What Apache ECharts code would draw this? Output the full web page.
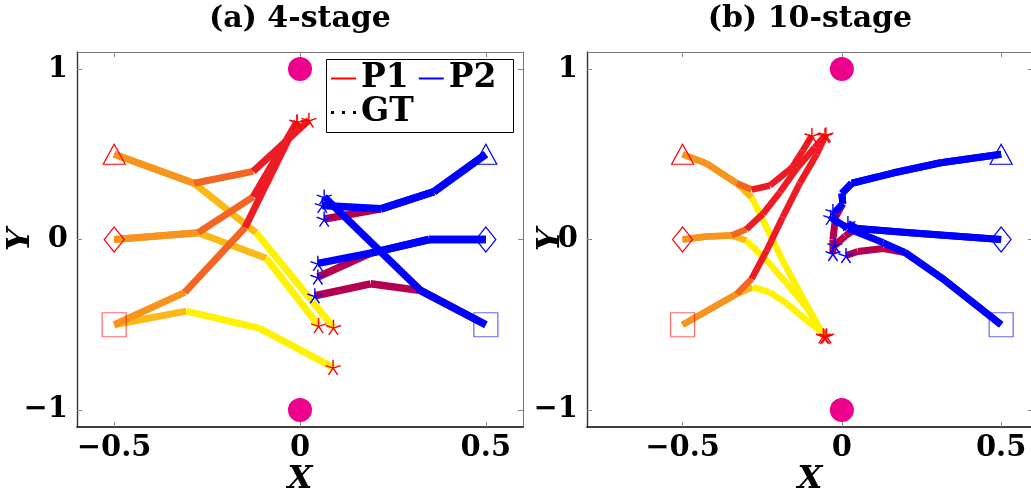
<!DOCTYPE html>
<html><head><meta charset="utf-8">
<script src="https://cdn.jsdelivr.net/npm/echarts@6/dist/echarts.min.js"></script>
<style>html,body{margin:0;padding:0;background:#fff}#c{width:1031px;height:497px}</style>
</head><body><div id="c"></div>
<script>
// ---------------- data ----------------
const panelTitles = ['(a) 4-stage', '(b) 10-stage'];
const xTicks = [-0.5, 0, 0.5];
const yTicks = [-1, 0, 1];
const xRangeA = [-0.6, 0.6];
const xRangeB = [-0.8, 0.6];
const yRange = [-1.1, 1.1];
const obstacles = [[0, 1], [0, -1]];
const startTri = { P1: [-0.5, 0.5], P2: [0.5, 0.5] };
const startDia = { P1: [-0.5, 0], P2: [0.5, 0] };
const startSq  = { P1: [-0.5, -0.5], P2: [0.5, -0.5] };
const legendNames = ['P1', 'P2', 'GT'];

// each point: [x, y, w]; w = colour weight of the segment ending at that point
// P1: 0 = red ... 1 = yellow ; P2: 0 = blue ... 1 = crimson
// panel (a) 4-stage
const a_P1_tri_up = [[-0.5,0.5,0.5],[-0.285,0.33,0.5],[-0.126,0.40,0.25],[0.024,0.70,0]];
const a_P1_tri_dn = [[-0.5,0.5,0.5],[-0.285,0.33,0.5],[-0.118,0.04,0.75],[0.09,-0.515,1]];
const a_P1_dia_up = [[-0.5,0,0.5],[-0.274,0.04,0.5],[-0.126,0.25,0.25],[-0.008,0.69,0]];
const a_P1_dia_dn = [[-0.5,0,0.5],[-0.274,0.04,0.5],[-0.091,-0.11,0.75],[0.05,-0.505,1]];
const a_P1_sq_up  = [[-0.5,-0.5,0.5],[-0.31,-0.31,0.5],[-0.148,0.07,0.25],[-0.008,0.69,0]];
const a_P1_sq_dn  = [[-0.5,-0.5,0.75],[-0.306,-0.42,0.75],[-0.11,-0.52,1],[0.089,-0.75,1]];
const a_P2_tri_main = [[0.5,0.5,0],[0.36,0.28,0],[0.218,0.18,0],[0.06,0.20,0]];
const a_P2_tri_alt  = [[0.5,0.5,0],[0.36,0.28,0],[0.218,0.18,0],[0.065,0.12,1]];
const a_P2_dia_main = [[0.5,0,0],[0.347,0.0,0],[0.19,-0.08,0],[0.048,-0.14,0]];
const a_P2_dia_alt  = [[0.5,0,0],[0.347,0.0,0],[0.19,-0.08,0],[0.048,-0.22,1]];
const a_P2_sq_main  = [[0.5,-0.5,0],[0.325,-0.30,0],[0.065,0.25,0]];
const a_P2_sq_alt   = [[0.5,-0.5,0],[0.325,-0.30,1],[0.19,-0.26,1],[0.04,-0.33,1]];
// panel (b) 10-stage
const b_P1_tri_up = [[-0.5,0.5,0.5],[-0.425,0.446,0.5],[-0.33,0.33,0.5],[-0.283,0.293,0.25],[-0.226,0.317,0],[-0.157,0.42,0],[-0.123,0.52,0],[-0.094,0.61,0]];
const b_P1_tri_dn = [[-0.5,0.5,0.5],[-0.425,0.446,0.5],[-0.33,0.33,0.5],[-0.283,0.246,0.75],[-0.236,0.07,1],[-0.186,-0.123,1],[-0.132,-0.31,1],[-0.058,-0.565,1]];
const b_P1_dia_up = [[-0.5,0,0.5],[-0.425,0.018,0.5],[-0.346,0.023,0.5],[-0.30,0.06,0.25],[-0.248,0.15,0],[-0.195,0.276,0],[-0.14,0.42,0],[-0.085,0.54,0],[-0.053,0.61,0]];
const b_P1_dia_dn = [[-0.5,0,0.5],[-0.425,0.018,0.5],[-0.346,0.023,0.5],[-0.30,-0.006,0.75],[-0.236,-0.123,1],[-0.173,-0.258,1],[-0.11,-0.4,1],[-0.053,-0.57,1]];
const b_P1_sq_up  = [[-0.5,-0.5,0.5],[-0.41,-0.405,0.5],[-0.33,-0.32,0.5],[-0.283,-0.23,0.25],[-0.236,-0.065,0],[-0.186,0.13,0],[-0.132,0.33,0],[-0.079,0.5,0],[-0.05,0.615,0]];
const b_P1_sq_dn  = [[-0.5,-0.5,0.5],[-0.41,-0.405,0.5],[-0.33,-0.32,0.5],[-0.28,-0.28,0.75],[-0.226,-0.31,1],[-0.173,-0.375,1],[-0.11,-0.475,1],[-0.048,-0.565,1]];
const b_P2_tri_main = [[0.5,0.5,0],[0.31,0.45,0],[0.16,0.39,0],[0.031,0.33,0],[0.0,0.27,0],[0.003,0.21,0],[-0.022,0.16,0],[-0.028,0.165,0]];
const b_P2_tri_alt  = [[0.5,0.5,0],[0.31,0.45,0],[0.16,0.39,0],[0.031,0.33,0],[0.0,0.27,0],[0.003,0.21,0],[-0.02,0.13,1],[-0.028,0.0,1],[-0.028,-0.082,1]];
const b_P2_dia_main = [[0.5,0,0],[0.214,0.04,0],[0.047,0.065,0],[0.019,0.094,0]];
const b_P2_dia_alt  = [[0.5,0,0],[0.214,0.04,0],[0.047,0.065,0],[0.01,0.02,1],[-0.022,-0.035,1]];
const b_P2_sq_main  = [[0.5,-0.5,0],[0.324,-0.24,0],[0.198,-0.076,0],[0.129,-0.018,0],[0.019,0.065,0],[-0.035,0.13,0]];
const b_P2_sq_alt   = [[0.5,-0.5,0],[0.324,-0.24,0],[0.198,-0.076,0],[0.13,-0.053,1],[0.05,-0.07,1],[0.013,-0.094,1]];

// ---------------- styles ----------------
const FONT = 'DejaVu Serif';
const P1_STOPS = [[0,[237,28,36]],[0.25,[242,101,34]],[0.5,[247,148,29]],[0.75,[251,185,23]],[1,[255,242,0]]];
const P2_STOPS = [[0,[0,0,255]],[1,[180,0,78]]];
function cmap(stops, w) {
  for (let i = 1; i < stops.length; i++) {
    if (w <= stops[i][0]) {
      const [p0, c0] = stops[i-1], [p1, c1] = stops[i];
      const t = (w - p0) / (p1 - p0);
      return 'rgb(' + c0.map((c, k) => Math.round(c + (c1[k] - c) * t)).join(',') + ')';
    }
  }
  return 'rgb(' + stops[stops.length-1][1].join(',') + ')';
}
const STAR = 'path://M10,10L10,0M10,10L19.51,6.91M10,10L15.88,18.09M10,10L4.12,18.09M10,10L0.49,6.91';
const fmt = v => (v < 0 ? '\u2212' + Math.abs(v) : String(v));

const series = [];
function addPath(pts, ax, stops, width, z) {
  for (let i = 1; i < pts.length; i++) {
    series.push({
      type: 'line', xAxisIndex: ax, yAxisIndex: ax, silent: true, animation: false,
      symbol: 'none', z: z,
      data: [[pts[i-1][0], pts[i-1][1]], [pts[i][0], pts[i][1]]],
      lineStyle: { color: cmap(stops, pts[i][2]), width: width, cap: 'butt' }
    });
  }
}
function addMarks(ax, p1paths, p2paths) {
  const hollow = (col, op) => ({ color: 'rgba(0,0,0,0)', borderColor: col, borderWidth: 1.2, opacity: op });
  [['P1', '#ff0000'], ['P2', '#0000ff']].forEach(([p, col]) => {
    series.push({ type: 'scatter', xAxisIndex: ax, yAxisIndex: ax, silent: true, animation: false, z: 6,
      symbol: 'triangle', symbolSize: [22, 20], data: [startTri[p]], itemStyle: hollow(col, 1) });
    series.push({ type: 'scatter', xAxisIndex: ax, yAxisIndex: ax, silent: true, animation: false, z: 6,
      symbol: 'diamond', symbolSize: [20, 25], data: [startDia[p]], itemStyle: hollow(col, 1) });
    series.push({ type: 'scatter', xAxisIndex: ax, yAxisIndex: ax, silent: true, animation: false, z: 6,
      symbol: 'rect', symbolSize: 24, data: [startSq[p]], itemStyle: hollow(col, 0.6) });
  });
  series.push({ type: 'scatter', xAxisIndex: ax, yAxisIndex: ax, silent: true, animation: false, z: 7,
    symbol: STAR, symbolSize: 15, data: p1paths.map(p => p[p.length-1].slice(0, 2)),
    itemStyle: { color: 'rgba(0,0,0,0)', borderColor: '#ff0000', borderWidth: 1.4, opacity: 1 } });
  series.push({ type: 'scatter', xAxisIndex: ax, yAxisIndex: ax, silent: true, animation: false, z: 7,
    symbol: STAR, symbolSize: 15, data: p2paths.map(p => p[p.length-1].slice(0, 2)),
    itemStyle: { color: 'rgba(0,0,0,0)', borderColor: '#0000ff', borderWidth: 1.4, opacity: 1 } });
  series.push({ type: 'scatter', xAxisIndex: ax, yAxisIndex: ax, silent: true, animation: false, z: 8,
    symbol: 'circle', symbolSize: 24, data: obstacles, itemStyle: { color: '#ec008c', opacity: 1 } });
}

// panel a (axis index 0), panel b (axis index 2)
[a_P1_tri_dn, a_P1_dia_dn, a_P1_sq_dn].forEach(p => addPath(p, 0, P1_STOPS, 7, 2));
[a_P1_tri_up, a_P1_dia_up, a_P1_sq_up].forEach(p => addPath(p, 0, P1_STOPS, 7, 3));
[a_P2_tri_alt, a_P2_dia_alt, a_P2_sq_alt].forEach(p => addPath(p, 0, P2_STOPS, 7.5, 4));
[a_P2_tri_main, a_P2_dia_main, a_P2_sq_main].forEach(p => addPath(p, 0, P2_STOPS, 7.5, 5));
addMarks(0, [a_P1_tri_up, a_P1_tri_dn, a_P1_dia_up, a_P1_dia_dn, a_P1_sq_up, a_P1_sq_dn],
            [a_P2_tri_main, a_P2_tri_alt, a_P2_dia_main, a_P2_dia_alt, a_P2_sq_main, a_P2_sq_alt]);

[b_P1_tri_dn, b_P1_dia_dn, b_P1_sq_dn].forEach(p => addPath(p, 2, P1_STOPS, 6.5, 2));
[b_P1_tri_up, b_P1_dia_up, b_P1_sq_up].forEach(p => addPath(p, 2, P1_STOPS, 6.5, 3));
[b_P2_tri_alt, b_P2_dia_alt, b_P2_sq_alt].forEach(p => addPath(p, 2, P2_STOPS, 7, 4));
[b_P2_tri_main, b_P2_dia_main, b_P2_sq_main].forEach(p => addPath(p, 2, P2_STOPS, 7, 5));
addMarks(2, [b_P1_tri_up, b_P1_tri_dn, b_P1_dia_up, b_P1_dia_dn, b_P1_sq_up, b_P1_sq_dn],
            [b_P2_tri_main, b_P2_tri_alt, b_P2_dia_main, b_P2_dia_alt, b_P2_sq_main, b_P2_sq_alt]);

// legend-only series
series.push({ type: 'line', name: legendNames[0], data: [], symbol: 'none', lineStyle: { color: '#ff0000', width: 2 }, itemStyle: { color: '#ff0000' } });
series.push({ type: 'line', name: legendNames[1], data: [], symbol: 'none', lineStyle: { color: '#0000ff', width: 2 }, itemStyle: { color: '#0000ff' } });
series.push({ type: 'line', name: legendNames[2], data: [], symbol: 'none', lineStyle: { color: '#000', width: 2.5, type: [2, 4] }, itemStyle: { color: '#000' } });

// ---------------- axes ----------------
const tickLbl = { fontFamily: FONT, fontWeight: 'bold', fontSize: 29, color: '#000' };
const nameStyle = { fontFamily: FONT, fontWeight: 'bold', fontStyle: 'italic', fontSize: 32, color: '#000' };
function xAx(grid, range, pos) {
  const main = pos === 'bottom';
  return {
    type: 'value', gridIndex: grid, position: pos, min: range[0], max: range[1],
    name: main ? 'X' : '', nameLocation: 'middle', nameGap: 37, nameMoveOverlap: false, nameTextStyle: nameStyle,
    splitLine: { show: false },
    axisLine: { show: true, onZero: false, lineStyle: { color: main ? '#000' : '#777', width: main ? 1.6 : 1 } },
    axisTick: { show: true, inside: true, length: 5, customValues: xTicks, lineStyle: { color: '#888' } },
    axisLabel: { show: main, customValues: xTicks, formatter: fmt, margin: 7, ...tickLbl }
  };
}
function yAx(grid, pos, gap) {
  const main = pos === 'left';
  return {
    type: 'value', gridIndex: grid, position: pos, min: yRange[0], max: yRange[1],
    name: main ? 'Y' : '', nameLocation: 'middle', nameGap: gap, nameRotate: 90, nameMoveOverlap: false, nameTextStyle: nameStyle,
    splitLine: { show: false },
    axisLine: { show: true, onZero: false, lineStyle: { color: main ? '#333' : '#777', width: main ? 1.4 : 1 } },
    axisTick: { show: true, inside: true, length: 5, customValues: yTicks, lineStyle: { color: '#888' } },
    axisLabel: { show: main, customValues: yTicks, formatter: fmt, margin: 9, ...tickLbl }
  };
}

const option = {
  backgroundColor: '#fff',
  animation: false,
  title: [
    { text: panelTitles[0], left: 300, top: 4, textAlign: 'center', padding: 0,
      textStyle: { fontFamily: FONT, fontWeight: 'bold', fontSize: 30, color: '#000' } },
    { text: panelTitles[1], left: 810, top: 4, textAlign: 'center', padding: 0,
      textStyle: { fontFamily: FONT, fontWeight: 'bold', fontSize: 30, color: '#000' } }
  ],
  grid: [
    { left: 77, top: 52, width: 446, height: 375, containLabel: false, outerBoundsMode: 'none' },
    { left: 587, top: 52, width: 446, height: 375, containLabel: false, outerBoundsMode: 'none' }
  ],
  xAxis: [xAx(0, xRangeA, 'bottom'), xAx(0, xRangeA, 'top'), xAx(1, xRangeB, 'bottom'), xAx(1, xRangeB, 'top')],
  yAxis: [yAx(0, 'left', 40), yAx(0, 'right', 0), yAx(1, 'left', 20), yAx(1, 'right', 0)],
  legend: [
    { data: [{ name: legendNames[0], icon: 'rect' }, { name: legendNames[1], icon: 'rect' }],
      left: 331, top: 62, itemWidth: 25, itemHeight: 2, itemGap: 10,
      padding: 0, z: 20, selectedMode: false,
      textStyle: { fontFamily: FONT, fontWeight: 'bold', fontSize: 33, color: '#000' } },
    { data: [{ name: legendNames[2], icon: 'path://M0,0h3v3h-3zM11,0h3v3h-3zM22,0h3v3h-3z' }],
      left: 331, top: 96, itemWidth: 25, itemHeight: 3, itemGap: 10,
      padding: 0, z: 20, selectedMode: false,
      textStyle: { fontFamily: FONT, fontWeight: 'bold', fontSize: 33, color: '#000' } }
  ],
  graphic: [
    { type: 'rect', left: 326, top: 59, z: 15, shape: { width: 187, height: 73 },
      style: { fill: '#fff', stroke: '#000', lineWidth: 1 } }
  ],
  series: series
};
const chart = echarts.init(document.getElementById('c'), null, { renderer: 'canvas' });
chart.setOption(option);
</script></body></html>
